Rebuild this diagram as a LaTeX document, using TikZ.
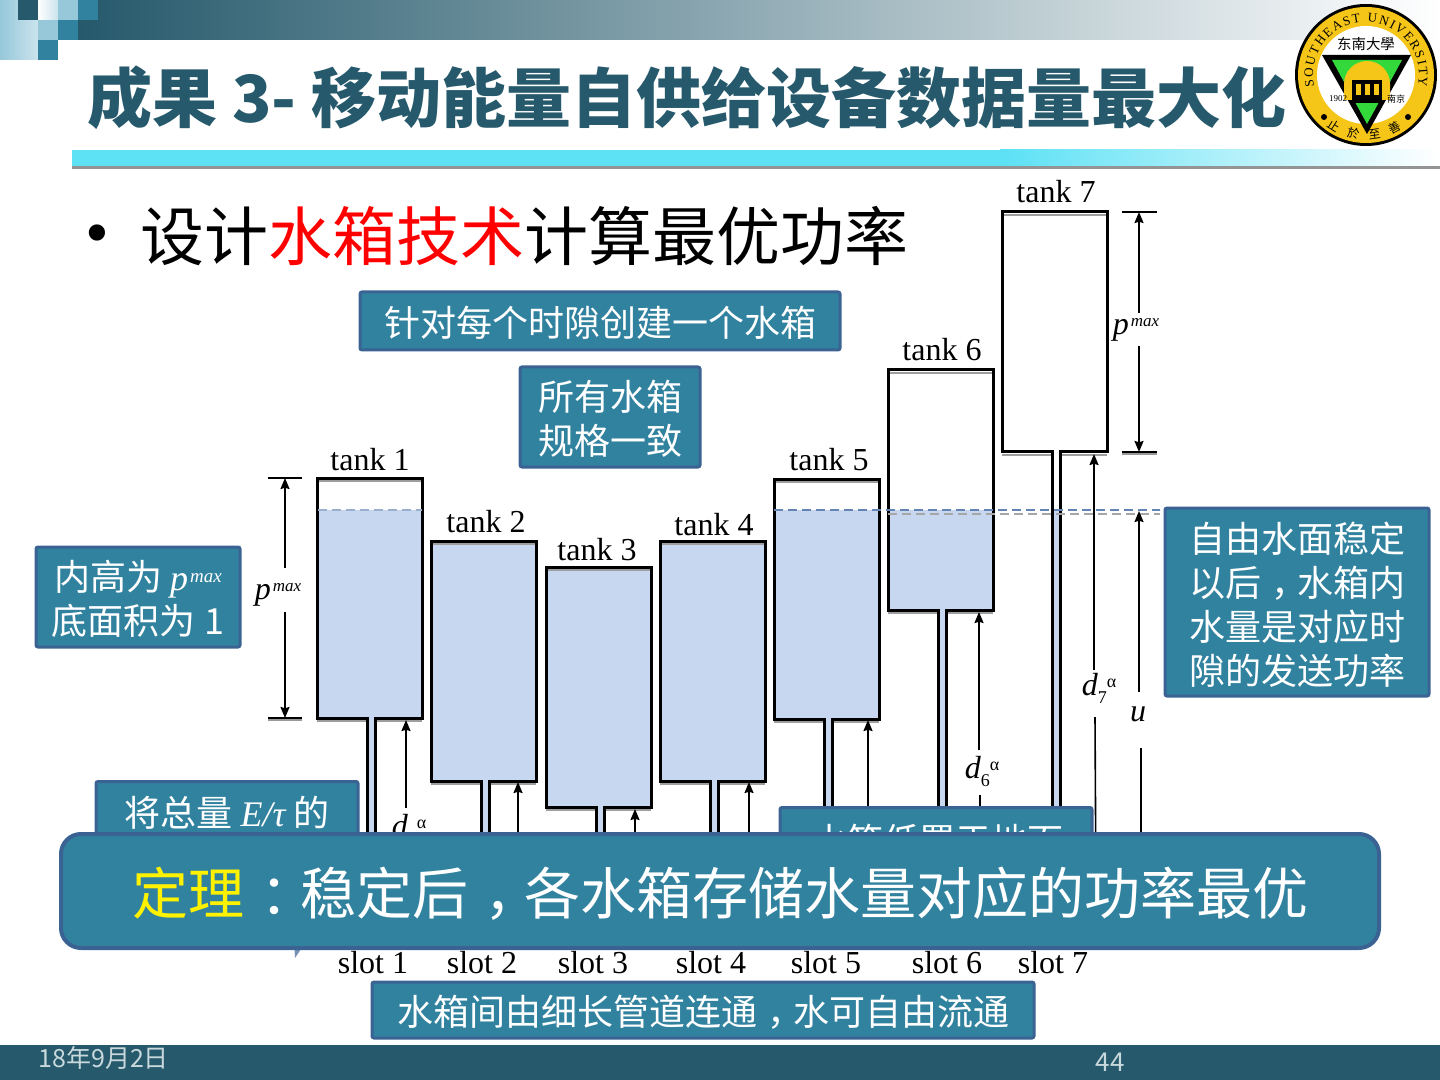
\documentclass[tikz,border=0pt]{standalone}
\usepackage{amsmath}
\usepackage{fontspec}
\setmainfont{Liberation Serif}
\newfontfamily\cjk{Noto Sans CJK SC}
\usetikzlibrary{decorations.text,arrows.meta}
\definecolor{seadark}{HTML}{25596B}
\definecolor{seamid}{HTML}{31829F}
\definecolor{sealight}{HTML}{96C8DA}
\definecolor{boxedge}{HTML}{3A6394}
\definecolor{water}{HTML}{C6D7EF}
\definecolor{levelblue}{HTML}{6384B4}
\definecolor{ruleblue}{HTML}{5CE1F5}
\definecolor{logoyellow}{HTML}{F5C518}
\definecolor{logogreen}{HTML}{33D93A}
\definecolor{footgrey}{HTML}{C8D8DC}
\tikzset{
    tankline/.style={line width=1.5pt,black,line join=miter},
    tankshadow/.style={line width=1.2pt,black!38},
    waterfill/.style={fill=water,draw=none},
    dimline/.style={line width=0.8pt,-{Stealth[length=5.5pt,width=4.5pt,inset=0.6pt]}},
    tickline/.style={line width=0.7pt},
    tanklabel/.style={inner sep=0pt,font=\fontsize{16}{19}\selectfont},
    infobox/.style={draw=boxedge,fill=seamid,line width=1.5pt,rounded corners=1pt},
    infotext/.style={text=white,align=center,inner sep=0pt,font=\cjk\fontsize{18}{22}\selectfont},
}
\newcommand{\dlabel}[1]{\textit{d}\raisebox{-4pt}{\fontsize{9}{9}\selectfont #1}\raisebox{4pt}{\fontsize{9}{9}\selectfont α}}
\newcommand{\pmaxlabel}[1][8.5]{\textit{p}\hspace{1pt}\raisebox{4pt}{\fontsize{#1}{9}\selectfont\textit{max}}}
\newcommand{\midmark}[1]{\hspace{.3em}#1\hspace{-.3em}}

\begin{document}
\begin{tikzpicture}[x=0.5pt,y=-0.5pt]
    \useasboundingbox (0,0) rectangle (1440,1080);
    % header
    \fill[left color=seadark,right color=white] (78,0) rectangle (1440,40);
    \fill[left color=sealight,right color=sealight!50] (0,0) rectangle (38,60);
    \fill[seadark] (18,0) rectangle (38,20);
    \fill[left color=white,right color=sealight!50] (38,0) rectangle (58,20);
    \fill[sealight] (58,0) rectangle (78,20);
    \fill[seamid] (78,0) rectangle (98,20);
    \fill[sealight] (38,20) rectangle (58,40);
    \fill[seamid] (58,20) rectangle (78,40);
    \fill[seamid] (38,40) rectangle (58,60);
    \fill[ruleblue] (72,150) rectangle (1001,166);
    \fill[left color=ruleblue,right color=white] (1000,150) rectangle (1440,166);
    \fill[black!42] (72,166) rectangle (1440,169);
    \node[anchor=west,inner sep=0pt,text=seadark,font=\cjk\bfseries\fontsize{32.5}{38}\selectfont] (title) at (87,98) {成果 3- 移动能量自供给设备数据量最大化};
    \node[anchor=center,inner sep=0pt,font=\fontsize{34}{38}\selectfont] (bullet) at (97,240) {\textbullet};
    \node[anchor=west,inner sep=0pt,font=\cjk\fontsize{32}{38}\selectfont] (headline) at (140,236) {设计\textcolor{red}{水箱技术}计算最优功率};
    % logo
    \fill[black] (1366,75) circle[radius=35.5pt];
    \fill[logoyellow] (1366,75) circle[radius=34pt];
    \fill[white] (1366,75) circle[radius=24.5pt];
    \fill[black] (1322,55) -- (1411,55) -- (1367,134) -- cycle;
    \fill[logogreen] (1332,60) -- (1402,60) -- (1367,124) -- cycle;
    \fill[logoyellow] (1344,100) -- (1344,84) arc[start angle=180,end angle=0,radius=11.5pt] -- (1390,100) -- cycle;
    \fill[black] (1352,80) rectangle (1382,103);
    \foreach \x in {1356,1365,1374} {
        \fill[logoyellow] (\x,84) rectangle (\x+5,95);
    }
    \fill[black] (1324,117) circle[radius=1.5pt];
    \fill[black] (1408,117) circle[radius=1.5pt];
    \node[inner sep=0pt,font=\cjk\fontsize{7.2}{8}\selectfont] (logoname) at (1366,44) {东南大學};
    \node[inner sep=0pt,font=\fontsize{4.5}{5}\selectfont] (logoyear) at (1338,99) {1902};
    \node[inner sep=0pt,font=\cjk\fontsize{4.5}{5}\selectfont] (logocity) at (1396,99) {南京};
    \begin{scope}[shift={(1366,75)},x=0.5pt,y=0.5pt]
        \path[decorate,decoration={text along path,text align={fit to path},
            text={|\fontsize{6.5}{7}\selectfont|SOUTHEAST UNIVERSITY}}] (192:53) arc (192:-12:53);
    \end{scope}
    \foreach \c/\ang in {止/-122,於/-102,至/-82,善/-62} {
        \node[inner sep=0pt,rotate=\ang+90,font=\cjk\fontsize{6}{7}\selectfont] at ({1366+60*cos(\ang)},{75-60*sin(\ang)}) {\c};
    }
    % water first, the walls on top of it
    \foreach \n/\xl/\yt/\yw in {1/317/478/510,2/431/541/541,3/546/567/567,4/660/541/541,5/774/479/510,6/888/370/510,7/1002/212/510} {
        \pgfmathsetmacro{\yb}{\yt+240}
        \ifnum\n=7
            \fill[waterfill] (\xl+50,\yw) rectangle (\xl+58,900);
        \else
            \fill[waterfill] (\xl,\yw) rectangle (\xl+105,\yb);
            \fill[waterfill] (\xl+50,\yb) rectangle (\xl+58,900);
        \fi
        \draw[tankshadow] (\xl,\yt+3) -- (\xl+105,\yt+3);
        \draw[tankshadow] (\xl,\yb+3) -- (\xl+50,\yb+3);
        \draw[tankshadow] (\xl+58,\yb+3) -- (\xl+105,\yb+3);
        \draw[tankline] (\xl+50,900) -- (\xl+50,\yb) -- (\xl,\yb) -- (\xl,\yt) -- (\xl+105,\yt) -- (\xl+105,\yb) -- (\xl+58,\yb) -- (\xl+58,900);
    }
    \draw[black!35,line width=1pt,dash pattern=on 4.5pt off 2.5pt] (888,513.5) -- (1160,513.5);
    \draw[levelblue,line width=1pt,dash pattern=on 4.5pt off 2.5pt] (774,510) -- (1160,510);
    \draw[levelblue!65,line width=0.7pt,dash pattern=on 4.5pt off 2.5pt] (318,510) -- (422,510);
    % tank and slot names
    \foreach \n/\x/\y in {1/370/460,2/486/522,3/597/550,4/714/525,5/829/460,6/942/350,7/1056/192} {
        \node[tanklabel] (tankname\n) at (\x,\y) {tank \n};
    }
    \foreach \n/\x in {1/373,2/482,3/593,4/711,5/826,6/947,7/1053} {
        \node[tanklabel] (slotname\n) at (\x,963) {slot \n};
    }
    % heights
    \draw[tickline] (268,478) -- (302,478);
    \draw[tickline] (268,718) -- (302,718);
    \draw[black!40,tickline] (268,720) -- (302,720);
    \draw[tickline] (1122,212) -- (1157,212);
    \draw[tickline] (1122,452) -- (1157,452);
    \draw[black!40,tickline] (1122,454) -- (1157,454);
    \node[tanklabel] (pmaxleft) at (278,595) {\pmaxlabel};
    \node[tanklabel] (pmaxright) at (1136,330) {\pmaxlabel};
    \coordinate (leftTop) at (285,478);
    \coordinate (leftBottom) at (285,718);
    \coordinate (rightTop) at (1139,212);
    \coordinate (rightBottom) at (1139,452);
    \coordinate (leftA) at (285,568);
    \coordinate (leftB) at (285,612);
    \coordinate (rightA) at (1139,313);
    \coordinate (rightB) at (1139,346);
    \draw[dimline] (leftA) -- (leftTop);
    \draw[dimline] (leftB) -- (leftBottom);
    \draw[dimline] (rightA) -- (rightTop);
    \draw[dimline] (rightB) -- (rightBottom);
    % demands
    \foreach \n/\x/\yfoot/\ytip in {1/406/808/720,2/518/900/782,3/635/900/809,4/749/900/782,5/868/900/720,6/979/750/612,7/1094/670/454,8/1139/692/511} {
        \coordinate (foot\n) at (\x,\yfoot);
        \coordinate (tip\n) at (\x,\ytip);
        \draw[dimline] (foot\n) -- (tip\n);
    }
    \node[tanklabel] (dem1) at (409,829) {\dlabel{1}};
    \node[tanklabel] (dem6) at (982,771) {\dlabel{6}};
    \node[tanklabel] (dem7) at (1099,688) {\dlabel{7}};
    \node[tanklabel] (level) at (1138,714) {\textit{u}};
    \coordinate (lower6a) at (980,795);
    \coordinate (lower6b) at (980,900);
    \coordinate (lower7a) at (1095,717);
    \coordinate (lower7b) at (1096,900);
    \coordinate (lower8a) at (1141,748);
    \coordinate (lower8b) at (1141,900);
    \draw[line width=0.8pt] (lower6a) -- (lower6b);
    \draw[line width=0.8pt] (lower7a) -- (lower7b);
    \draw[line width=0.8pt] (lower8a) -- (lower8b);
    % notes
    \node[infobox,minimum width=240pt,minimum height=29pt] (noteEach) at (600,321) {};
    \node[infotext] (noteEachText) at (600,323) {针对每个时隙创建一个水箱};
    \node[infobox,minimum width=90pt,minimum height=50pt] (noteSame) at (610,417) {};
    \node[infotext] (noteSameText) at (610,419) {所有水箱\\规格一致};
    \node[infobox,minimum width=102pt,minimum height=50pt] (noteSize) at (138,597) {};
    \node[infotext] (noteSizeText) at (138,599) {内高为 {\rmfamily\pmaxlabel[9.5]}\\底面积为 1};
    \node[infobox,minimum width=132pt,minimum height=94pt] (noteFree) at (1297,602) {};
    \node[infotext] (noteFreeText) at (1297,605) {自由水面稳定\\以后\midmark{，}水箱内\\水量是对应时\\隙的发送功率};
    \fill[boxedge!70] (294,940) -- (307,940) -- (295,958) -- cycle;
    \node[infobox,minimum width=131pt,minimum height=80pt,anchor=north] (noteTotal) at (227,780) {};
    \node[infotext] (noteTotalText) at (227,813) {将总量 {\rmfamily\itshape E/τ} 的};
    \node[infobox,minimum width=156pt,minimum height=45pt,anchor=north] (noteGround) at (936,806) {};
    \node[infotext] (noteGroundText) at (937,841) {水箱低置于地面};
    \node[infobox,minimum width=331pt,minimum height=28pt] (notePipe) at (703,1010) {};
    \node[infotext] (notePipeText) at (703,1012) {水箱间由细长管道连通\midmark{，}水可自由流通};
    \node[infobox,line width=2pt,rounded corners=10pt,minimum width=659pt,minimum height=57pt] (theorem) at (720,891) {};
    \node[infotext,font=\cjk\fontsize{28}{34}\selectfont] (theoremText) at (720,894) {\textcolor{yellow}{定理}\midmark{：}稳定后\midmark{，}各水箱存储水量对应的功率最优};
    % footer
    \fill[seadark] (0,1045) rectangle (1440,1080);
    \node[anchor=west,inner sep=0pt,text=footgrey,font=\cjk\fontsize{12.5}{14}\selectfont] (footDate) at (38,1058) {18年9月2日};
    \node[inner sep=0pt,text=footgrey,font=\cjk\fontsize{13}{14}\selectfont] (footPage) at (1110,1062) {44};
\end{tikzpicture}
\end{document}
